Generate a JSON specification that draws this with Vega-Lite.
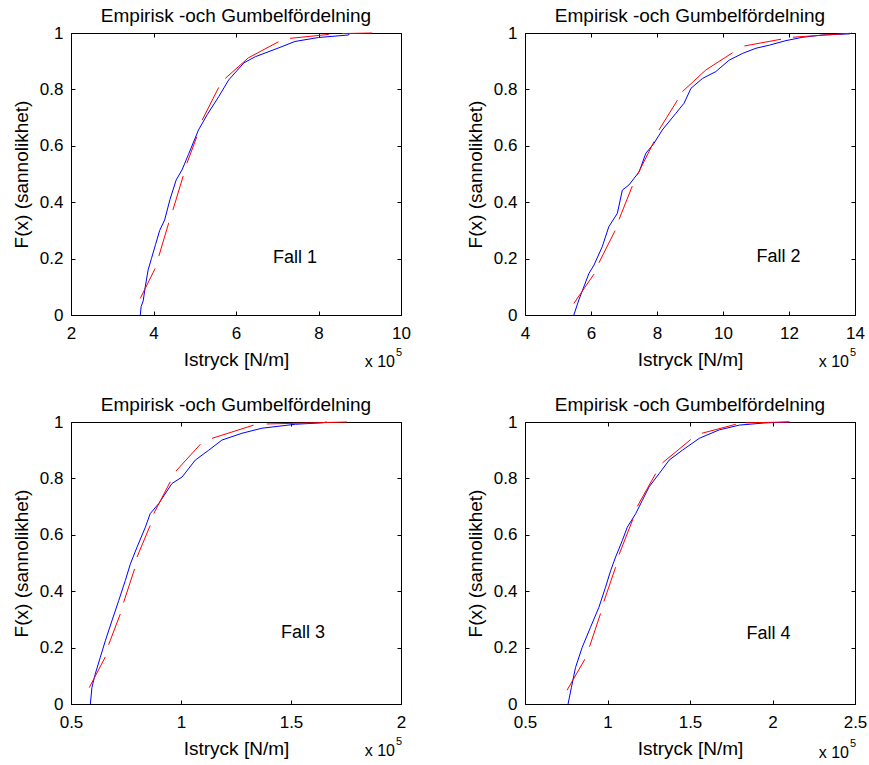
{
"$schema":"https://vega.github.io/schema/vega-lite/v6.json",
"autosize":{"type":"pad"},
"padding":{"left":12,"top":7,"right":0,"bottom":0},
"config":{"font":"Liberation Sans","view":{"stroke":null},
 "axis":{"domainColor":"black","tickColor":"black","labelColor":"black","titleColor":"black","labelFontSize":17,"titleFontSize":19,"titleFontWeight":"normal","grid":false,"labelFlush":false,"labelOverlap":false,"tickSize":-4,"domainWidth":1,"tickWidth":1,"labelFont":"Liberation Sans","titleFont":"Liberation Sans","minExtent":0,"labelExpr":"'' + datum.value"},
 "title":{"fontSize":19,"fontWeight":"normal","color":"black","font":"Liberation Sans"},
 "text":{"font":"Liberation Sans","color":"black"}},
"data":{"values":[
{"p":1,"s":"e","g":0,"x":3.68,"y":0},{"p":1,"s":"e","g":0,"x":3.70,"y":0.03},{"p":1,"s":"e","g":0,"x":3.75,"y":0.05},{"p":1,"s":"e","g":0,"x":3.80,"y":0.10},{"p":1,"s":"e","g":0,"x":3.87,"y":0.16},{"p":1,"s":"e","g":0,"x":3.95,"y":0.20},{"p":1,"s":"e","g":0,"x":4.05,"y":0.25},{"p":1,"s":"e","g":0,"x":4.15,"y":0.30},{"p":1,"s":"e","g":0,"x":4.27,"y":0.337},{"p":1,"s":"e","g":0,"x":4.40,"y":0.41},{"p":1,"s":"e","g":0,"x":4.55,"y":0.479},{"p":1,"s":"e","g":0,"x":4.69,"y":0.514},{"p":1,"s":"e","g":0,"x":4.85,"y":0.57},{"p":1,"s":"e","g":0,"x":5.09,"y":0.656},{"p":1,"s":"e","g":0,"x":5.30,"y":0.71},{"p":1,"s":"e","g":0,"x":5.58,"y":0.774},{"p":1,"s":"e","g":0,"x":5.82,"y":0.833},{"p":1,"s":"e","g":0,"x":6.19,"y":0.894},{"p":1,"s":"e","g":0,"x":6.47,"y":0.916},{"p":1,"s":"e","g":0,"x":7.03,"y":0.947},{"p":1,"s":"e","g":0,"x":7.43,"y":0.97},{"p":1,"s":"e","g":0,"x":8.0,"y":0.984},{"p":1,"s":"e","g":0,"x":8.73,"y":0.993},{"p":1,"s":"e","g":0,"x":8.75,"y":1.0},
{"p":1,"s":"g","g":1,"x":3.68,"y":0.059},{"p":1,"s":"g","g":1,"x":4.04,"y":0.165},
{"p":1,"s":"g","g":2,"x":4.13,"y":0.209},{"p":1,"s":"g","g":2,"x":4.37,"y":0.327},
{"p":1,"s":"g","g":3,"x":4.47,"y":0.372},{"p":1,"s":"g","g":3,"x":4.72,"y":0.493},
{"p":1,"s":"g","g":4,"x":4.81,"y":0.538},{"p":1,"s":"g","g":4,"x":5.05,"y":0.632},
{"p":1,"s":"g","g":5,"x":5.18,"y":0.691},{"p":1,"s":"g","g":5,"x":5.58,"y":0.807},
{"p":1,"s":"g","g":6,"x":5.74,"y":0.839},{"p":1,"s":"g","g":6,"x":6.3,"y":0.912},{"p":1,"s":"g","g":6,"x":7.03,"y":0.969},
{"p":1,"s":"g","g":7,"x":7.31,"y":0.981},{"p":1,"s":"g","g":7,"x":8.25,"y":0.995},
{"p":1,"s":"g","g":8,"x":8.57,"y":0.998},{"p":1,"s":"g","g":8,"x":9.3,"y":1.0},
{"p":2,"s":"e","g":0,"x":5.48,"y":0},{"p":2,"s":"e","g":0,"x":5.63,"y":0.053},{"p":2,"s":"e","g":0,"x":5.94,"y":0.148},{"p":2,"s":"e","g":0,"x":6.09,"y":0.177},{"p":2,"s":"e","g":0,"x":6.34,"y":0.242},{"p":2,"s":"e","g":0,"x":6.54,"y":0.313},{"p":2,"s":"e","g":0,"x":6.80,"y":0.361},{"p":2,"s":"e","g":0,"x":6.95,"y":0.443},{"p":2,"s":"e","g":0,"x":7.15,"y":0.461},{"p":2,"s":"e","g":0,"x":7.46,"y":0.508},{"p":2,"s":"e","g":0,"x":7.66,"y":0.573},{"p":2,"s":"e","g":0,"x":7.91,"y":0.609},{"p":2,"s":"e","g":0,"x":8.16,"y":0.656},{"p":2,"s":"e","g":0,"x":8.57,"y":0.715},{"p":2,"s":"e","g":0,"x":8.82,"y":0.751},{"p":2,"s":"e","g":0,"x":9.03,"y":0.804},{"p":2,"s":"e","g":0,"x":9.38,"y":0.839},{"p":2,"s":"e","g":0,"x":9.78,"y":0.863},{"p":2,"s":"e","g":0,"x":10.19,"y":0.904},{"p":2,"s":"e","g":0,"x":10.60,"y":0.928},{"p":2,"s":"e","g":0,"x":11.0,"y":0.946},{"p":2,"s":"e","g":0,"x":11.41,"y":0.957},{"p":2,"s":"e","g":0,"x":11.91,"y":0.973},{"p":2,"s":"e","g":0,"x":12.42,"y":0.985},{"p":2,"s":"e","g":0,"x":13.03,"y":0.993},{"p":2,"s":"e","g":0,"x":13.84,"y":0.997},{"p":2,"s":"e","g":0,"x":13.9,"y":1.0},
{"p":2,"s":"g","g":1,"x":5.48,"y":0.041},{"p":2,"s":"g","g":1,"x":6.09,"y":0.145},
{"p":2,"s":"g","g":2,"x":6.24,"y":0.185},{"p":2,"s":"g","g":2,"x":6.73,"y":0.299},
{"p":2,"s":"g","g":3,"x":6.85,"y":0.339},{"p":2,"s":"g","g":3,"x":7.25,"y":0.457},
{"p":2,"s":"g","g":4,"x":7.40,"y":0.496},{"p":2,"s":"g","g":4,"x":7.91,"y":0.615},
{"p":2,"s":"g","g":5,"x":8.06,"y":0.656},{"p":2,"s":"g","g":5,"x":8.62,"y":0.762},
{"p":2,"s":"g","g":6,"x":8.77,"y":0.792},{"p":2,"s":"g","g":6,"x":9.48,"y":0.869},{"p":2,"s":"g","g":6,"x":10.29,"y":0.93},
{"p":2,"s":"g","g":7,"x":10.65,"y":0.954},{"p":2,"s":"g","g":7,"x":11.76,"y":0.978},
{"p":2,"s":"g","g":8,"x":12.12,"y":0.985},{"p":2,"s":"g","g":8,"x":13.84,"y":0.999},
{"p":3,"s":"e","g":0,"x":0.588,"y":0},{"p":3,"s":"e","g":0,"x":0.595,"y":0.058},{"p":3,"s":"e","g":0,"x":0.61,"y":0.106},{"p":3,"s":"e","g":0,"x":0.633,"y":0.165},{"p":3,"s":"e","g":0,"x":0.656,"y":0.224},{"p":3,"s":"e","g":0,"x":0.686,"y":0.295},{"p":3,"s":"e","g":0,"x":0.717,"y":0.367},{"p":3,"s":"e","g":0,"x":0.747,"y":0.438},{"p":3,"s":"e","g":0,"x":0.770,"y":0.497},{"p":3,"s":"e","g":0,"x":0.80,"y":0.556},{"p":3,"s":"e","g":0,"x":0.838,"y":0.627},{"p":3,"s":"e","g":0,"x":0.860,"y":0.675},{"p":3,"s":"e","g":0,"x":0.899,"y":0.711},{"p":3,"s":"e","g":0,"x":0.959,"y":0.782},{"p":3,"s":"e","g":0,"x":1.005,"y":0.805},{"p":3,"s":"e","g":0,"x":1.065,"y":0.865},{"p":3,"s":"e","g":0,"x":1.126,"y":0.9},{"p":3,"s":"e","g":0,"x":1.186,"y":0.936},{"p":3,"s":"e","g":0,"x":1.277,"y":0.96},{"p":3,"s":"e","g":0,"x":1.368,"y":0.978},{"p":3,"s":"e","g":0,"x":1.52,"y":0.992},{"p":3,"s":"e","g":0,"x":1.64,"y":0.997},{"p":3,"s":"e","g":0,"x":1.664,"y":1.0},
{"p":3,"s":"g","g":1,"x":0.583,"y":0.058},{"p":3,"s":"g","g":1,"x":0.656,"y":0.167},
{"p":3,"s":"g","g":2,"x":0.671,"y":0.21},{"p":3,"s":"g","g":2,"x":0.724,"y":0.319},
{"p":3,"s":"g","g":3,"x":0.739,"y":0.36},{"p":3,"s":"g","g":3,"x":0.789,"y":0.479},
{"p":3,"s":"g","g":4,"x":0.80,"y":0.521},{"p":3,"s":"g","g":4,"x":0.86,"y":0.633},
{"p":3,"s":"g","g":5,"x":0.876,"y":0.675},{"p":3,"s":"g","g":5,"x":0.951,"y":0.788},
{"p":3,"s":"g","g":6,"x":0.977,"y":0.826},{"p":3,"s":"g","g":6,"x":1.088,"y":0.921},
{"p":3,"s":"g","g":7,"x":1.141,"y":0.942},{"p":3,"s":"g","g":7,"x":1.33,"y":0.989},
{"p":3,"s":"g","g":8,"x":1.39,"y":0.993},{"p":3,"s":"g","g":8,"x":1.755,"y":1.0},
{"p":4,"s":"e","g":0,"x":0.761,"y":0},{"p":4,"s":"e","g":0,"x":0.781,"y":0.058},{"p":4,"s":"e","g":0,"x":0.806,"y":0.129},{"p":4,"s":"e","g":0,"x":0.846,"y":0.2},{"p":4,"s":"e","g":0,"x":0.897,"y":0.272},{"p":4,"s":"e","g":0,"x":0.948,"y":0.343},{"p":4,"s":"e","g":0,"x":0.988,"y":0.414},{"p":4,"s":"e","g":0,"x":1.019,"y":0.473},{"p":4,"s":"e","g":0,"x":1.049,"y":0.521},{"p":4,"s":"e","g":0,"x":1.09,"y":0.58},{"p":4,"s":"e","g":0,"x":1.12,"y":0.627},{"p":4,"s":"e","g":0,"x":1.171,"y":0.675},{"p":4,"s":"e","g":0,"x":1.211,"y":0.722},{"p":4,"s":"e","g":0,"x":1.252,"y":0.77},{"p":4,"s":"e","g":0,"x":1.313,"y":0.817},{"p":4,"s":"e","g":0,"x":1.374,"y":0.865},{"p":4,"s":"e","g":0,"x":1.454,"y":0.9},{"p":4,"s":"e","g":0,"x":1.556,"y":0.942},{"p":4,"s":"e","g":0,"x":1.677,"y":0.972},{"p":4,"s":"e","g":0,"x":1.799,"y":0.989},{"p":4,"s":"e","g":0,"x":1.961,"y":0.997},{"p":4,"s":"e","g":0,"x":2.103,"y":1.0},
{"p":4,"s":"g","g":1,"x":0.755,"y":0.049},{"p":4,"s":"g","g":1,"x":0.863,"y":0.159},
{"p":4,"s":"g","g":2,"x":0.891,"y":0.203},{"p":4,"s":"g","g":2,"x":0.958,"y":0.321},
{"p":4,"s":"g","g":3,"x":0.978,"y":0.363},{"p":4,"s":"g","g":3,"x":1.049,"y":0.485},
{"p":4,"s":"g","g":4,"x":1.07,"y":0.53},{"p":4,"s":"g","g":4,"x":1.155,"y":0.657},
{"p":4,"s":"g","g":5,"x":1.181,"y":0.701},{"p":4,"s":"g","g":5,"x":1.292,"y":0.817},
{"p":4,"s":"g","g":6,"x":1.333,"y":0.855},{"p":4,"s":"g","g":6,"x":1.505,"y":0.938},
{"p":4,"s":"g","g":7,"x":1.572,"y":0.96},{"p":4,"s":"g","g":7,"x":1.778,"y":0.992},
{"p":4,"s":"g","g":8,"x":1.839,"y":0.997},{"p":4,"s":"g","g":8,"x":2.103,"y":1.0}
]},
"columns":2,
"spacing":{"row":107,"column":124},
"bounds":"flush",
"concat":[
{"width":330,"height":282,
 "title":{"text":"Empirisk -och Gumbelfördelning","anchor":"middle","baseline":"alphabetic","offset":-17},
 "layer":[
  {"transform":[{"filter":"datum.p==1 && datum.s=='e'"}],"mark":{"type":"line","color":"#0000ff","strokeWidth":1},
   "encoding":{"x":{"field":"x","type":"quantitative","scale":{"domain":[2,10],"nice":false,"zero":false},"axis":{"values":[2,4,6,8,10],"title":"Istryck [N/m]","labelPadding":14,"titlePadding":9}},
    "y":{"field":"y","type":"quantitative","scale":{"domain":[0,1],"nice":false},"axis":{"values":[0,0.2,0.4,0.6,0.8,1],"title":"F(x) (sannolikhet)","labelPadding":12,"titlePadding":8}}}},
  {"transform":[{"filter":"datum.p==1 && datum.s=='g'"}],"mark":{"type":"line","color":"#ff0000","strokeWidth":1},
   "encoding":{"x":{"field":"x","type":"quantitative","scale":{"domain":[2,10],"nice":false,"zero":false},"axis":{"orient":"top","values":[2,4,6,8,10],"labels":false,"title":null}},
    "y":{"field":"y","type":"quantitative","scale":{"domain":[0,1],"nice":false},"axis":{"orient":"right","values":[0,0.2,0.4,0.6,0.8,1],"labels":false,"title":null}},"detail":{"field":"g"}}},
  {"data":{"values":[{}]},"mark":{"type":"text","text":"Fall 1","fontSize":18,"align":"center","baseline":"middle"},
   "encoding":{"x":{"datum":7.43,"type":"quantitative","axis":null,"scale":{"domain":[2,10]}},"y":{"datum":0.202,"type":"quantitative","axis":null,"scale":{"domain":[0,1]}}}},
  {"data":{"values":[{}]},"mark":{"type":"text","text":"x 10","fontSize":16,"align":"right","baseline":"alphabetic","dx":-6},
   "encoding":{"x":{"datum":10,"type":"quantitative","axis":null,"scale":{"domain":[2,10]}},"y":{"datum":-0.184,"type":"quantitative","axis":null,"scale":{"domain":[0,1]}}}},
  {"data":{"values":[{}]},"mark":{"type":"text","text":"5","fontSize":11,"align":"left","baseline":"alphabetic","dx":-5},
   "encoding":{"x":{"datum":10,"type":"quantitative","axis":null,"scale":{"domain":[2,10]}},"y":{"datum":-0.146,"type":"quantitative","axis":null,"scale":{"domain":[0,1]}}}}
 ],
 "resolve":{"axis":{"x":"independent","y":"independent"}}},
{"width":330,"height":282,
 "title":{"text":"Empirisk -och Gumbelfördelning","anchor":"middle","baseline":"alphabetic","offset":-17},
 "layer":[
  {"transform":[{"filter":"datum.p==2 && datum.s=='e'"}],"mark":{"type":"line","color":"#0000ff","strokeWidth":1},
   "encoding":{"x":{"field":"x","type":"quantitative","scale":{"domain":[4,14],"nice":false,"zero":false},"axis":{"values":[4,6,8,10,12,14],"title":"Istryck [N/m]","labelPadding":14,"titlePadding":9}},
    "y":{"field":"y","type":"quantitative","scale":{"domain":[0,1],"nice":false},"axis":{"values":[0,0.2,0.4,0.6,0.8,1],"title":"F(x) (sannolikhet)","labelPadding":12,"titlePadding":8}}}},
  {"transform":[{"filter":"datum.p==2 && datum.s=='g'"}],"mark":{"type":"line","color":"#ff0000","strokeWidth":1},
   "encoding":{"x":{"field":"x","type":"quantitative","scale":{"domain":[4,14],"nice":false,"zero":false},"axis":{"orient":"top","values":[4,6,8,10,12,14],"labels":false,"title":null}},
    "y":{"field":"y","type":"quantitative","scale":{"domain":[0,1],"nice":false},"axis":{"orient":"right","values":[0,0.2,0.4,0.6,0.8,1],"labels":false,"title":null}},"detail":{"field":"g"}}},
  {"data":{"values":[{}]},"mark":{"type":"text","text":"Fall 2","fontSize":18,"align":"center","baseline":"middle"},
   "encoding":{"x":{"datum":11.68,"type":"quantitative","axis":null,"scale":{"domain":[4,14]}},"y":{"datum":0.207,"type":"quantitative","axis":null,"scale":{"domain":[0,1]}}}},
  {"data":{"values":[{}]},"mark":{"type":"text","text":"x 10","fontSize":16,"align":"right","baseline":"alphabetic","dx":-6},
   "encoding":{"x":{"datum":14,"type":"quantitative","axis":null,"scale":{"domain":[4,14]}},"y":{"datum":-0.184,"type":"quantitative","axis":null,"scale":{"domain":[0,1]}}}},
  {"data":{"values":[{}]},"mark":{"type":"text","text":"5","fontSize":11,"align":"left","baseline":"alphabetic","dx":-5},
   "encoding":{"x":{"datum":14,"type":"quantitative","axis":null,"scale":{"domain":[4,14]}},"y":{"datum":-0.146,"type":"quantitative","axis":null,"scale":{"domain":[0,1]}}}}
 ],
 "resolve":{"axis":{"x":"independent","y":"independent"}}},
{"width":330,"height":282,
 "title":{"text":"Empirisk -och Gumbelfördelning","anchor":"middle","baseline":"alphabetic","offset":-17},
 "layer":[
  {"transform":[{"filter":"datum.p==3 && datum.s=='e'"}],"mark":{"type":"line","color":"#0000ff","strokeWidth":1},
   "encoding":{"x":{"field":"x","type":"quantitative","scale":{"domain":[0.5,2],"nice":false,"zero":false},"axis":{"values":[0.5,1,1.5,2],"title":"Istryck [N/m]","labelPadding":14,"titlePadding":9}},
    "y":{"field":"y","type":"quantitative","scale":{"domain":[0,1],"nice":false},"axis":{"values":[0,0.2,0.4,0.6,0.8,1],"title":"F(x) (sannolikhet)","labelPadding":12,"titlePadding":8}}}},
  {"transform":[{"filter":"datum.p==3 && datum.s=='g'"}],"mark":{"type":"line","color":"#ff0000","strokeWidth":1},
   "encoding":{"x":{"field":"x","type":"quantitative","scale":{"domain":[0.5,2],"nice":false,"zero":false},"axis":{"orient":"top","values":[0.5,1,1.5,2],"labels":false,"title":null}},
    "y":{"field":"y","type":"quantitative","scale":{"domain":[0,1],"nice":false},"axis":{"orient":"right","values":[0,0.2,0.4,0.6,0.8,1],"labels":false,"title":null}},"detail":{"field":"g"}}},
  {"data":{"values":[{}]},"mark":{"type":"text","text":"Fall 3","fontSize":18,"align":"center","baseline":"middle"},
   "encoding":{"x":{"datum":1.554,"type":"quantitative","axis":null,"scale":{"domain":[0.5,2]}},"y":{"datum":0.251,"type":"quantitative","axis":null,"scale":{"domain":[0,1]}}}},
  {"data":{"values":[{}]},"mark":{"type":"text","text":"x 10","fontSize":16,"align":"right","baseline":"alphabetic","dx":-6},
   "encoding":{"x":{"datum":2,"type":"quantitative","axis":null,"scale":{"domain":[0.5,2]}},"y":{"datum":-0.184,"type":"quantitative","axis":null,"scale":{"domain":[0,1]}}}},
  {"data":{"values":[{}]},"mark":{"type":"text","text":"5","fontSize":11,"align":"left","baseline":"alphabetic","dx":-5},
   "encoding":{"x":{"datum":2,"type":"quantitative","axis":null,"scale":{"domain":[0.5,2]}},"y":{"datum":-0.146,"type":"quantitative","axis":null,"scale":{"domain":[0,1]}}}}
 ],
 "resolve":{"axis":{"x":"independent","y":"independent"}}},
{"width":330,"height":282,
 "title":{"text":"Empirisk -och Gumbelfördelning","anchor":"middle","baseline":"alphabetic","offset":-17},
 "layer":[
  {"transform":[{"filter":"datum.p==4 && datum.s=='e'"}],"mark":{"type":"line","color":"#0000ff","strokeWidth":1},
   "encoding":{"x":{"field":"x","type":"quantitative","scale":{"domain":[0.5,2.5],"nice":false,"zero":false},"axis":{"values":[0.5,1,1.5,2,2.5],"title":"Istryck [N/m]","labelPadding":14,"titlePadding":9}},
    "y":{"field":"y","type":"quantitative","scale":{"domain":[0,1],"nice":false},"axis":{"values":[0,0.2,0.4,0.6,0.8,1],"title":"F(x) (sannolikhet)","labelPadding":12,"titlePadding":8}}}},
  {"transform":[{"filter":"datum.p==4 && datum.s=='g'"}],"mark":{"type":"line","color":"#ff0000","strokeWidth":1},
   "encoding":{"x":{"field":"x","type":"quantitative","scale":{"domain":[0.5,2.5],"nice":false,"zero":false},"axis":{"orient":"top","values":[0.5,1,1.5,2,2.5],"labels":false,"title":null}},
    "y":{"field":"y","type":"quantitative","scale":{"domain":[0,1],"nice":false},"axis":{"orient":"right","values":[0,0.2,0.4,0.6,0.8,1],"labels":false,"title":null}},"detail":{"field":"g"}}},
  {"data":{"values":[{}]},"mark":{"type":"text","text":"Fall 4","fontSize":18,"align":"center","baseline":"middle"},
   "encoding":{"x":{"datum":1.976,"type":"quantitative","axis":null,"scale":{"domain":[0.5,2.5]}},"y":{"datum":0.248,"type":"quantitative","axis":null,"scale":{"domain":[0,1]}}}},
  {"data":{"values":[{}]},"mark":{"type":"text","text":"x 10","fontSize":16,"align":"right","baseline":"alphabetic","dx":-6},
   "encoding":{"x":{"datum":2.5,"type":"quantitative","axis":null,"scale":{"domain":[0.5,2.5]}},"y":{"datum":-0.19,"type":"quantitative","axis":null,"scale":{"domain":[0,1]}}}},
  {"data":{"values":[{}]},"mark":{"type":"text","text":"5","fontSize":11,"align":"left","baseline":"alphabetic","dx":-5},
   "encoding":{"x":{"datum":2.5,"type":"quantitative","axis":null,"scale":{"domain":[0.5,2.5]}},"y":{"datum":-0.152,"type":"quantitative","axis":null,"scale":{"domain":[0,1]}}}}
 ],
 "resolve":{"axis":{"x":"independent","y":"independent"}}}
]}
